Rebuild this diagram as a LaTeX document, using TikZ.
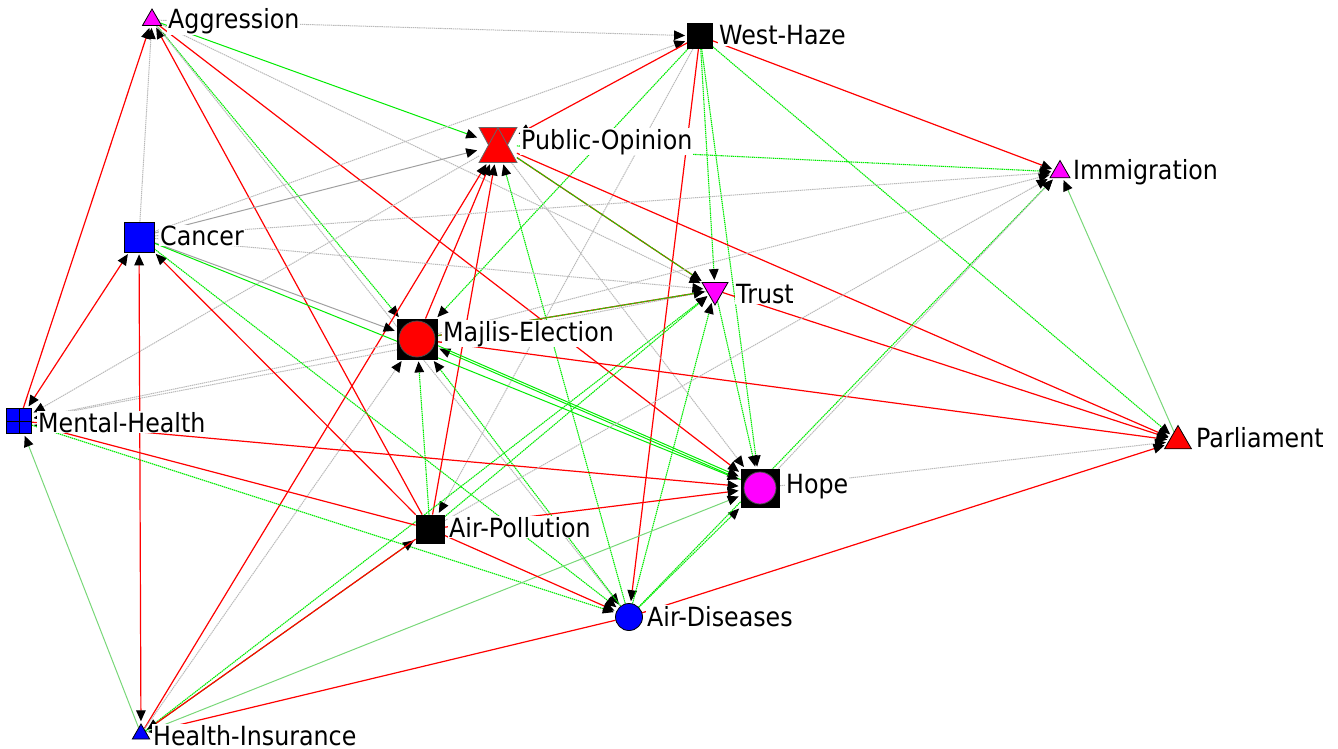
\documentclass[tikz,border=0pt]{standalone}
\usepackage{fontspec}
\newfontfamily\lblfont[FakeStretch=0.9]{DejaVu Sans}
\usetikzlibrary{shapes.geometric,arrows.meta}
\pgfdeclarelayer{edges}
\pgfsetlayers{edges,main}
\definecolor{ndred}{RGB}{255,0,0}
\definecolor{ndgreen}{RGB}{0,235,0}
\definecolor{ndgray}{RGB}{185,185,185}
\definecolor{nddgray}{RGB}{160,160,160}
\definecolor{ndlgreen}{RGB}{120,215,120}
\definecolor{ndmag}{RGB}{255,0,255}
\definecolor{ndblue}{RGB}{0,0,255}
\tikzset{
	arr/.style={-{Triangle[length=5.5pt,width=4.8pt,color=black]}, shorten >=1pt},
	bth/.style={{Triangle[length=5.5pt,width=4.8pt,color=black]}-{Triangle[length=5.5pt,width=4.8pt,color=black]}, shorten <=1pt},
	rd/.style={arr, draw=ndred, line width=0.6pt},
	gn/.style={arr, draw=ndgreen, line width=0.55pt, dash pattern=on 0.7pt off 0.35pt},
	gs/.style={arr, draw=ndgreen, line width=0.5pt},
	lg/.style={arr, draw=ndlgreen, line width=0.5pt},
	gy/.style={arr, draw=ndgray, line width=0.5pt, dash pattern=on 0.7pt off 0.35pt},
	gd/.style={arr, draw=nddgray, line width=0.5pt},
	lbl/.style={anchor=base west, fill=white, inner sep=0.4pt, font=\lblfont\fontsize{13.2}{15}\selectfont},
	sq/.style={rectangle, draw=black, line width=0.4pt, inner sep=0pt, minimum size=#1},
	tri/.style={regular polygon, regular polygon sides=3, draw=black, line width=0.4pt, inner sep=0pt, minimum size=#1},
}
\begin{document}
\begin{tikzpicture}[x=0.5pt,y=-0.5pt]
		\useasboundingbox (0,0) rectangle (1338,749);
		\node[tri=11pt, fill=ndmag] (ag) at (152,20) {};
		\node[sq=12.5pt, fill=black] (wh) at (700,36) {};
		\node[rectangle, inner sep=0pt, minimum width=18.5pt, minimum height=17pt] (po) at (498,145) {};
		\filldraw[fill=ndred, draw=black!60, line width=0.4pt] (po.north west) -- (po.north east) -- (po.south) -- cycle;
		\filldraw[fill=ndred, draw=black!60, line width=0.4pt] (po.south west) -- (po.south east) -- (po.north) -- cycle;
		\node[tri=11.5pt, fill=ndmag] (imm) at (1060,172) {};
		\node[sq=15pt, fill=ndblue] (can) at (139,237) {};
		\node[tri=15pt, shape border rotate=180, fill=ndmag] (tru) at (715,290) {};
		\node[sq=20pt, fill=black, path picture={\filldraw[fill=ndred, draw=black!70] (path picture bounding box.center) circle (9pt);}] (maj) at (417,339) {};
		\node[sq=12.5pt, fill=ndblue, path picture={\draw[line width=0.4pt] (path picture bounding box.north) -- (path picture bounding box.south) (path picture bounding box.west) -- (path picture bounding box.east);}] (mh) at (19,421) {};
		\node[tri=15.5pt, fill=ndred] (par) at (1178,441) {};
		\node[sq=19pt, fill=black, path picture={\filldraw[fill=ndmag, draw=black!70] (path picture bounding box.center) circle (8pt);}] (hope) at (760,488) {};
		\node[sq=14pt, fill=black] (ap) at (430,529) {};
		\node[circle, draw=black, line width=0.4pt, fill=ndblue, inner sep=0pt, minimum size=13.5pt] (ad) at (629,617) {};
		\node[tri=10pt, fill=ndblue] (hi) at (141,734) {};
		\node[lbl] (agl) at (167,29) {Aggression};
		\node[lbl] (whl) at (718,45) {West-Haze};
		\node[lbl] (pol) at (520,149) {Public-Opinion};
		\node[lbl] (imml) at (1072,179) {Immigration};
		\node[lbl] (canl) at (159,245) {Cancer};
		\node[lbl] (trul) at (735,303) {Trust};
		\node[lbl] (majl) at (442,341) {Majlis-Election};
		\node[lbl] (mhl) at (37,432) {Mental-Health};
		\node[lbl] (parl) at (1195,447) {Parliament};
		\node[lbl] (hopel) at (785,493) {Hope};
		\node[lbl] (apl) at (448,537) {Air-Pollution};
		\node[lbl] (adl) at (646,626) {Air-Diseases};
		\node[lbl] (hil) at (152,745) {Health-Insurance};
		\begin{pgfonlayer}{edges}
		\draw[rd] (mh) -- (ag);
		\draw[rd] (ap) -- (ag);
		\draw[gy] (can) -- (ag);
		\draw[gs] (ag) -- (po);
		\draw[gn] (ag) -- (maj);
		\draw[gy] (ag) -- (tru);
		\draw[gy] (ag) -- (ad);
		\draw[rd] (ag) -- (hope);
		\draw[gy] (ag) -- (wh);
		\draw[gy] (can) -- (wh);
		\draw[rd] (wh) -- (po);
		\draw[gn] (wh) -- (maj);
		\draw[gy] (wh) -- (ap);
		\draw[rd] (wh) -- (ad);
		\draw[gn] (wh) -- (tru);
		\draw[gn] (wh) -- (hope);
		\draw[gn] (wh) -- (par);
		\draw[rd] (wh) -- (imm);
		\draw[gd] (can) -- (po);
		\draw[gy] (po) -- (mh);
		\draw[rd] (hi) -- (po);
		\draw[rd] (maj) -- (po);
		\draw[rd] (ap) -- (po);
		\draw[gn] (po) -- (imm);
		\draw[rd] (po) -- (tru);
		\draw[gn] (po) -- (tru);
		\draw[rd] (po) -- (par);
		\draw[gn] (ad) -- (po);
		\draw[gy] (po) -- (hope);
		\draw[gy] (can) -- (tru);
		\draw[gy] (tru) -- (mh);
		\draw[rd] (maj) -- (tru);
		\draw[gn] (maj) -- (tru);
		\draw[gn] (ap) -- (tru);
		\draw[gn] (hi) -- (tru);
		\draw[gn] (ad) -- (tru);
		\draw[gn] (tru) -- (hope);
		\draw[rd] (tru) -- (par);
		\draw[gd] (can) -- (maj);
		\draw[gs] (hope) -- (maj);
		\draw[gs, transform canvas={yshift=1.2pt}] (maj) -- (hope);
		\draw[gn] (ap) -- (maj);
		\draw[gn] (ad) -- (maj);
		\draw[rd] (maj) -- (par);
		\draw[gy] (maj) -- (imm);
		\draw[gy] (maj) -- (mh);
		\draw[gy] (hi) -- (maj);
		\draw[rd] (ap) -- (mh);
		\draw[rd] (mh) -- (hope);
		\draw[gn] (mh) -- (ad);
		\draw[lg] (hi) -- (mh);
		\draw[rd, bth] (mh) -- (can);
		\draw[rd, bth] (hi) -- (can);
		\draw[rd] (ap) -- (can);
		\draw[gs] (can) -- (hope);
		\draw[gn] (can) -- (ad);
		\draw[gy] (can) -- (imm);
		\draw[gn] (hi) -- (ap);
		\draw[rd] (ap) -- (hi);
		\draw[lg] (hi) -- (hope);
		\draw[rd] (ad) -- (hi);
		\draw[rd] (ap) -- (ad);
		\draw[rd] (ap) -- (hope);
		\draw[gy] (ap) -- (imm);
		\draw[gn] (ad) -- (hope);
		\draw[gn] (ad) -- (imm);
		\draw[gy] (hope) -- (imm);
		\draw[gy] (hope) -- (par);
		\draw[rd] (ad) -- (par);
		\draw[lg] (par) -- (imm);
		\end{pgfonlayer}
	\end{tikzpicture}
\end{document}
